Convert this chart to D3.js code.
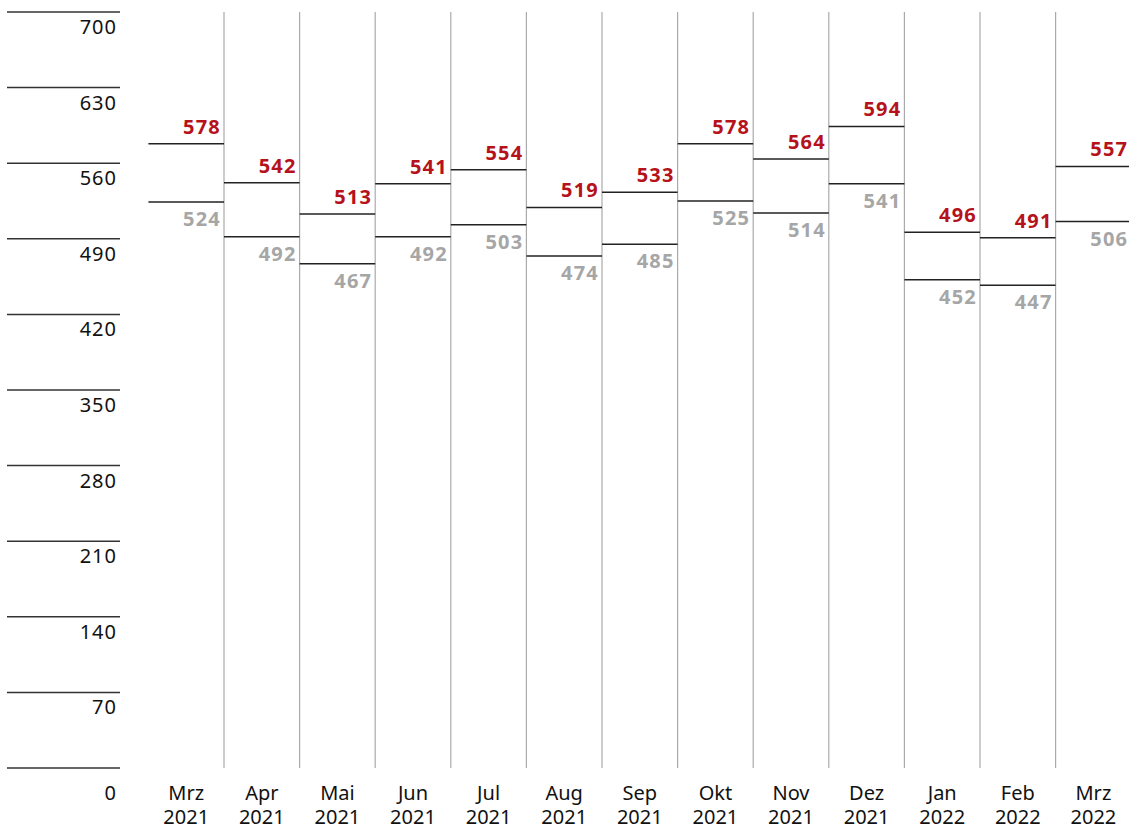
<!DOCTYPE html>
<html>
<head>
<meta charset="utf-8">
<script src="https://cdn.jsdelivr.net/npm/d3@7"></script>
<style>
  html, body { margin: 0; padding: 0; background: #fff; overflow: hidden; }
  svg { display: block; font-family: "Noto Sans", "DejaVu Sans", sans-serif; }
</style>
</head>
<body>
<svg></svg>
<script>
// monthly values: upper (red) and lower (gray)
const months = ["Mrz", "Apr", "Mai", "Jun", "Jul", "Aug", "Sep", "Okt", "Nov", "Dez", "Jan", "Feb", "Mrz"];
const years = ["2021", "2021", "2021", "2021", "2021", "2021", "2021", "2021", "2021", "2021", "2022", "2022", "2022"];
const upperValues = [578, 542, 513, 541, 554, 519, 533, 578, 564, 594, 496, 491, 557];
const lowerValues = [524, 492, 467, 492, 503, 474, 485, 525, 514, 541, 452, 447, 506];
const yTicks = [0, 70, 140, 210, 280, 350, 420, 490, 560, 630, 700];

const width = 1129;
const height = 825;
const red = "#b5121b";
const gray = "#a6a6a6";

const svg = d3.select("svg")
    .attr("width", width)
    .attr("height", height);

const keys = months.map((m, i) => i);

const x = d3.scaleBand()
    .domain(keys)
    .range([148.4, 1131.2])
    .padding(0);

const y = d3.scaleLinear()
    .domain([0, 700])
    .range([768, 12]);

// y axis: short lines with labels below
const yAxis = svg.append("g");
yAxis.selectAll("line")
    .data(yTicks)
    .enter().append("line")
    .attr("x1", 7)
    .attr("x2", 120)
    .attr("y1", d => y(d))
    .attr("y2", d => y(d))
    .attr("stroke", "#333")
    .attr("stroke-width", 1.5);

yAxis.selectAll("text")
    .data(yTicks)
    .enter().append("text")
    .attr("x", 117)
    .attr("y", d => d === 0 ? 800 : y(d) + 22)
    .attr("text-anchor", "end")
    .attr("font-size", 20)
    .attr("letter-spacing", 1)
    .attr("fill", "#111")
    .text(d => d);

// column separators
svg.append("g")
    .selectAll("line")
    .data(keys.slice(1))
    .enter().append("line")
    .attr("x1", d => x(d))
    .attr("x2", d => x(d))
    .attr("y1", y(700))
    .attr("y2", y(0))
    .attr("stroke", "#aaa")
    .attr("stroke-width", 1.2);

const col = svg.append("g")
    .selectAll("g")
    .data(keys)
    .enter().append("g");

// upper value line + label
col.append("line")
    .attr("x1", d => x(d))
    .attr("x2", d => x(d) + x.bandwidth())
    .attr("y1", d => y(upperValues[d]))
    .attr("y2", d => y(upperValues[d]))
    .attr("stroke", "#222")
    .attr("stroke-width", 1.5);

col.append("text")
    .attr("x", d => x(d) + x.bandwidth() - 3)
    .attr("y", d => y(upperValues[d]) - 10)
    .attr("text-anchor", "end")
    .attr("font-size", 20)
    .attr("font-weight", "bold")
    .attr("letter-spacing", 1.2)
    .attr("fill", red)
    .text(d => upperValues[d]);

// lower value line + label
col.append("line")
    .attr("x1", d => x(d))
    .attr("x2", d => x(d) + x.bandwidth())
    .attr("y1", d => y(lowerValues[d]))
    .attr("y2", d => y(lowerValues[d]))
    .attr("stroke", "#222")
    .attr("stroke-width", 1.5);

col.append("text")
    .attr("x", d => x(d) + x.bandwidth() - 3)
    .attr("y", d => y(lowerValues[d]) + 24)
    .attr("text-anchor", "end")
    .attr("font-size", 20)
    .attr("font-weight", "bold")
    .attr("letter-spacing", 1.2)
    .attr("fill", gray)
    .text(d => lowerValues[d]);

// month / year labels
const lab = col.append("text")
    .attr("text-anchor", "middle")
    .attr("font-size", 20)
    .attr("fill", "#111");
lab.append("tspan")
    .attr("x", d => x(d) + x.bandwidth() / 2)
    .attr("y", 800)
    .text(d => months[d]);
lab.append("tspan")
    .attr("x", d => x(d) + x.bandwidth() / 2)
    .attr("y", 824)
    .text(d => years[d]);
</script>
</body>
</html>
